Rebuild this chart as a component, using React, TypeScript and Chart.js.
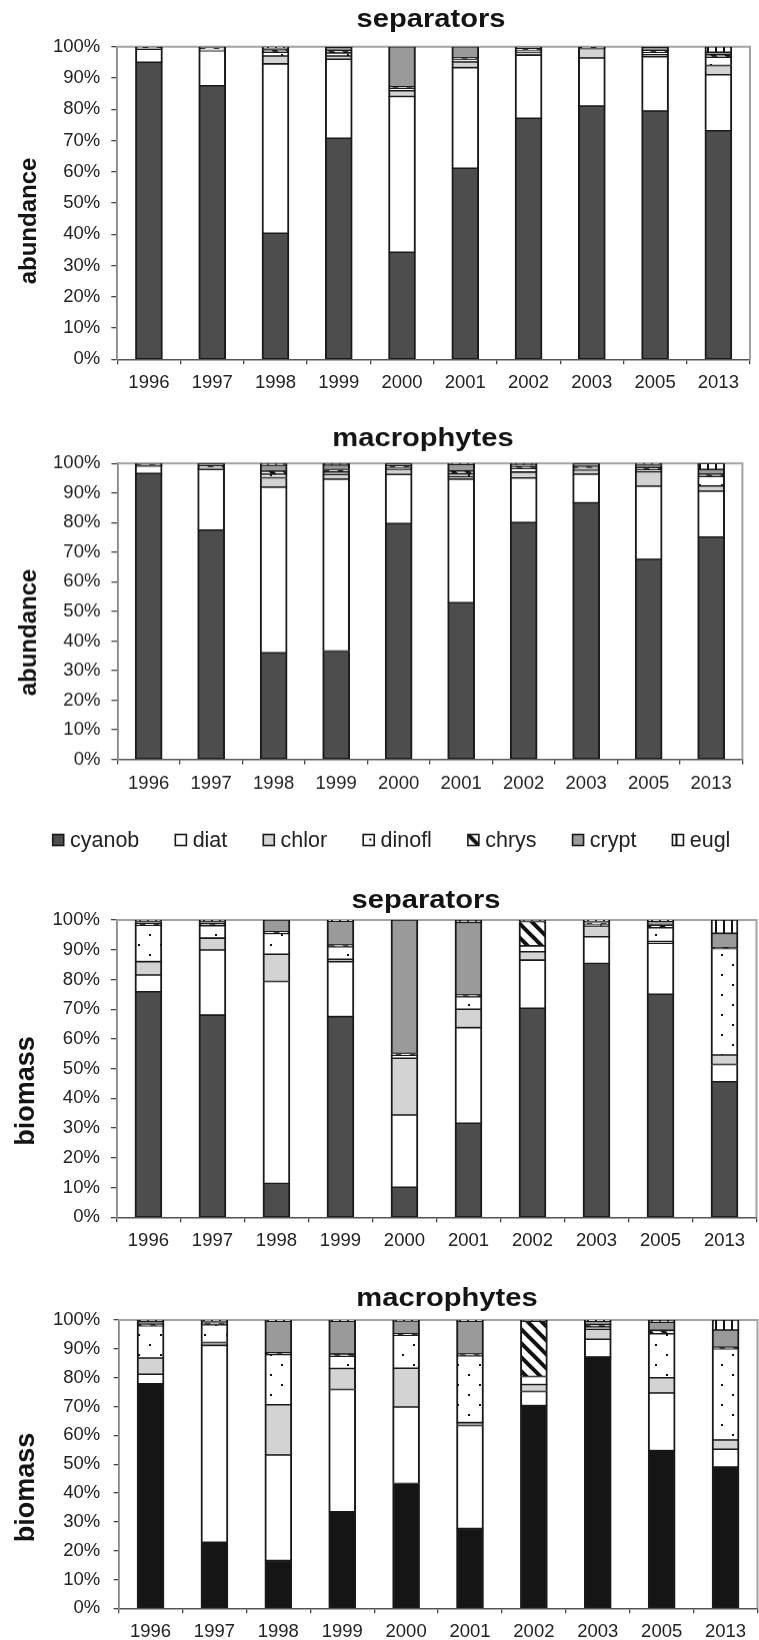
import React, { useEffect, useRef } from "react";
import { Chart, registerables } from "chart.js";

Chart.register(...registerables);

// ---------- categories / labels ----------
const years = ["1996", "1997", "1998", "1999", "2000", "2001", "2002", "2003", "2005", "2013"];
const groups = ["cyanob", "diat", "chlor", "dinofl", "chrys", "crypt", "eugl"];
const yTickStep = 10;

// ---------- separators, abundance (%) ----------
const sepAbCyanob = [95.0, 87.5, 40.3, 70.7, 34.2, 61.1, 77.1, 81.0, 79.4, 73.1];
const sepAbDiat = [4.2, 11.2, 54.2, 25.3, 49.9, 32.2, 20.2, 15.4, 17.4, 17.9];
const sepAbChlor = [0.0, 0.2, 2.5, 1.0, 1.8, 1.8, 1.0, 3.0, 0.6, 3.0];
const sepAbDinofl = [0.3, 0.3, 1.2, 1.0, 0.8, 0.8, 0.6, 0.2, 0.8, 2.6];
const sepAbChrys = [0.3, 0.4, 0.8, 0.8, 0.5, 0.5, 0.5, 0.2, 0.6, 0.8];
const sepAbCrypt = [0.2, 0.4, 0.6, 1.0, 12.8, 3.6, 0.6, 0.2, 1.0, 0.8];
const sepAbEugl = [0.0, 0.0, 0.4, 0.2, 0.0, 0.0, 0.0, 0.0, 0.2, 1.8];

// ---------- macrophytes, abundance (%) ----------
const macAbCyanob = [96.6, 77.5, 36.0, 36.6, 79.7, 52.9, 80.0, 86.7, 67.6, 75.1];
const macAbDiat = [2.6, 20.5, 56.0, 58.1, 16.6, 41.8, 15.1, 9.7, 24.7, 15.5];
const macAbChlor = [0.1, 0.3, 3.2, 1.6, 1.8, 0.8, 2.0, 1.4, 4.9, 1.8];
const macAbDinofl = [0.2, 0.4, 1.2, 0.8, 0.5, 1.0, 1.2, 0.6, 0.8, 3.2];
const macAbChrys = [0.2, 0.5, 1.0, 0.8, 0.6, 1.0, 0.8, 0.6, 0.6, 0.8];
const macAbCrypt = [0.3, 0.8, 2.0, 1.6, 0.8, 2.2, 0.4, 1.0, 1.0, 1.6];
const macAbEugl = [0.0, 0.0, 0.6, 0.5, 0.0, 0.3, 0.5, 0.0, 0.4, 2.0];

// ---------- separators, biomass (%) ----------
const sepBmCyanob = [75.9, 68.0, 11.4, 67.5, 10.1, 31.6, 70.3, 85.4, 75.0, 45.6];
const sepBmDiat = [5.6, 21.9, 67.9, 18.5, 24.3, 32.2, 16.2, 9.0, 17.2, 5.8];
const sepBmChlor = [4.5, 4.0, 9.2, 0.8, 19.1, 6.2, 2.8, 3.6, 0.6, 3.2];
const sepBmDinofl = [12.2, 4.2, 7.0, 4.2, 1.0, 4.2, 2.0, 0.6, 4.6, 35.8];
const sepBmChrys = [0.5, 0.6, 0.5, 0.6, 0.6, 0.6, 8.2, 0.4, 0.8, 0.3];
const sepBmCrypt = [0.8, 1.0, 4.0, 8.0, 44.9, 24.4, 0.3, 0.6, 1.4, 4.8];
const sepBmEugl = [0.5, 0.3, 0.0, 0.4, 0.0, 0.8, 0.2, 0.4, 0.4, 4.5];

// ---------- macrophytes, biomass (%) ----------
const macBmCyanob = [77.9, 22.9, 16.6, 33.5, 43.3, 27.7, 70.3, 87.2, 54.7, 49.0];
const macBmDiat = [3.3, 68.3, 36.6, 42.4, 26.5, 35.7, 4.9, 6.1, 20.0, 6.2];
const macBmChlor = [5.6, 1.0, 17.4, 7.3, 13.5, 1.0, 2.4, 3.5, 5.3, 3.2];
const macBmDinofl = [11.2, 6.2, 17.4, 4.2, 11.4, 23.2, 2.8, 0.8, 15.2, 31.6];
const macBmChrys = [0.5, 0.5, 0.6, 0.8, 0.5, 0.6, 19.2, 0.8, 1.2, 0.5];
const macBmCrypt = [1.0, 0.8, 11.0, 11.4, 4.5, 11.4, 0.2, 1.2, 2.8, 6.0];
const macBmEugl = [0.5, 0.3, 0.4, 0.4, 0.3, 0.4, 0.2, 0.4, 0.8, 3.5];

const FONT = '"Liberation Sans", Arial, Helvetica, sans-serif';

function makePattern(kind: string): any {
  const c = document.createElement("canvas");
  const x = c.getContext("2d") as CanvasRenderingContext2D;
  if (kind === "dots") {
    c.width = 22;
    c.height = 20;
    x.fillStyle = "#ffffff";
    x.fillRect(0, 0, 22, 20);
    x.fillStyle = "#111111";
    x.fillRect(6, 4, 2, 2);
    x.fillRect(17, 14, 2, 2);
  } else if (kind === "hatch") {
    c.width = 14;
    c.height = 14;
    x.fillStyle = "#ffffff";
    x.fillRect(0, 0, 14, 14);
    x.strokeStyle = "#111111";
    x.lineWidth = 4;
    x.beginPath();
    x.moveTo(-2, -2);
    x.lineTo(16, 16);
    x.moveTo(-2, 12);
    x.lineTo(2, 16);
    x.moveTo(12, -2);
    x.lineTo(16, 2);
    x.stroke();
  } else {
    c.width = 8;
    c.height = 4;
    x.fillStyle = "#ffffff";
    x.fillRect(0, 0, 8, 4);
    x.fillStyle = "#111111";
    x.fillRect(3, 0, 2, 4);
  }
  const p = x.createPattern(c, "repeat");
  return p || "#ffffff";
}

const decoPlugin = {
  id: "deco",
  beforeDatasetsDraw(chart: any) {
    const { ctx, chartArea: a } = chart;
    ctx.save();
    ctx.strokeStyle = "#a3a3a3";
    ctx.lineWidth = 2;
    ctx.beginPath();
    ctx.moveTo(a.left, a.top);
    ctx.lineTo(a.right, a.top);
    ctx.lineTo(a.right, a.bottom);
    ctx.stroke();
    ctx.restore();
  },
  afterDraw(chart: any, _args: any, o: any) {
    const { ctx } = chart;
    ctx.save();
    ctx.fillStyle = "#141414";
    ctx.textAlign = "center";
    ctx.textBaseline = "alphabetic";
    ctx.font = `bold ${o.titleSize}px ${FONT}`;
    ctx.save();
    ctx.translate(o.titleX, o.titleBase);
    ctx.scale(o.titleScaleX, 1);
    ctx.fillText(o.title, 0, 0);
    ctx.restore();
    ctx.save();
    ctx.translate(o.yTitleBase, o.yTitleY);
    ctx.rotate(-Math.PI / 2);
    ctx.font = `bold ${o.yTitleSize}px ${FONT}`;
    ctx.fillText(o.yTitle, 0, 0);
    ctx.restore();

    // legend row, built from the chart's own datasets
    if (o.legend) {
      const L = o.legend;
      ctx.font = `${L.fontSize}px ${FONT}`;
      ctx.textAlign = "left";
      ctx.textBaseline = "middle";
      let x = L.x0;
      chart.data.datasets.forEach((ds: any) => {
        const by = L.yCenter - L.box / 2;
        ctx.save();
        ctx.translate(x, by);
        ctx.fillStyle = ds.backgroundColor;
        ctx.fillRect(0, 0, L.box, L.box);
        ctx.strokeStyle = "#1a1a1a";
        ctx.lineWidth = 1.6;
        ctx.strokeRect(0, 0, L.box, L.box);
        ctx.restore();
        ctx.fillStyle = "#222222";
        const tx = x + L.textOffset;
        ctx.fillText(ds.label, tx, L.yCenter + 1);
        x = tx + ctx.measureText(ds.label).width + L.gap;
      });
    }
    ctx.restore();
  },
};

type Cfg = {
  top: number;
  height: number;
  series: number[][];
  cyanColor: string;
  padding: any;
  yWidth: number;
  xHeight: number;
  xPad: number;
  yTickLen: number;
  yPad: number;
  deco: any;
};

function buildConfig(cfg: Cfg): any {
  const fills = [
    cfg.cyanColor,
    "#ffffff",
    "#d3d3d3",
    makePattern("dots"),
    makePattern("hatch"),
    "#9a9a9a",
    makePattern("vlines"),
  ];
  return {
    type: "bar",
    data: {
      labels: years,
      datasets: groups.map((g, i) => ({
        label: g,
        data: cfg.series[i],
        backgroundColor: fills[i],
        borderColor: "#1a1a1a",
        borderWidth: { top: 1.1, bottom: 1.1, left: 2, right: 2 },
        borderSkipped: false,
        barThickness: 27,
      })),
    },
    options: {
      responsive: false,
      animation: false,
      devicePixelRatio: 1,
      layout: { padding: cfg.padding },
      plugins: {
        legend: { display: false },
        tooltip: { enabled: false },
        title: { display: false },
        deco: cfg.deco,
      },
      scales: {
        x: {
          stacked: true,
          grid: {
            offset: true,
            drawOnChartArea: false,
            drawTicks: true,
            tickLength: 5,
            color: "#444444",
            lineWidth: 1.3,
          },
          border: { display: true, color: "#555555", width: 1.5 },
          ticks: {
            color: "#222222",
            font: { family: FONT, size: 18.5 },
            padding: cfg.xPad,
            maxRotation: 0,
            autoSkip: false,
          },
          afterFit: (s: any) => {
            s.height = cfg.xHeight;
          },
        },
        y: {
          stacked: true,
          min: 0,
          max: 100,
          grid: {
            drawOnChartArea: false,
            drawTicks: true,
            tickLength: cfg.yTickLen,
            color: "#444444",
            lineWidth: 1.3,
          },
          border: { display: true, color: "#888888", width: 1.8 },
          ticks: {
            stepSize: yTickStep,
            autoSkip: false,
            color: "#222222",
            font: { family: FONT, size: 18.5 },
            padding: cfg.yPad,
            callback: (v: any) => `${v}%`,
          },
          afterFit: (s: any) => {
            s.width = cfg.yWidth;
          },
        },
      },
    },
    plugins: [decoPlugin],
  };
}

function StackedChart({ cfg }: { cfg: Cfg }) {
  const ref = useRef<HTMLCanvasElement | null>(null);
  useEffect(() => {
    if (!ref.current) return;
    const chart = new Chart(ref.current, buildConfig(cfg));
    return () => chart.destroy();
  }, []);
  return (
    <canvas
      ref={ref}
      width={759}
      height={cfg.height}
      style={{ position: "absolute", left: 0, top: cfg.top, width: 759, height: cfg.height }}
    />
  );
}

const charts: Cfg[] = [
  {
    top: 0,
    height: 400,
    series: [sepAbCyanob, sepAbDiat, sepAbChlor, sepAbDinofl, sepAbChrys, sepAbCrypt, sepAbEugl],
    cyanColor: "#4d4d4d",
    padding: { top: 46.7, left: 20, right: 9, bottom: 0 },
    yWidth: 97.3,
    xHeight: 40.7,
    xPad: 7.9,
    yTickLen: 6,
    yPad: 11,
    deco: {
      title: "separators", titleSize: 26, titleScaleX: 1.12, titleX: 431, titleBase: 27,
      yTitle: "abundance", yTitleSize: 24, yTitleBase: 36.3, yTitleY: 221,
    },
  },
  {
    top: 410,
    height: 449.5,
    series: [macAbCyanob, macAbDiat, macAbChlor, macAbDinofl, macAbChrys, macAbCrypt, macAbEugl],
    cyanColor: "#4d4d4d",
    padding: { top: 53.3, left: 19.9, right: 16.6, bottom: 60 },
    yWidth: 97.5,
    xHeight: 40.5,
    xPad: 7.9,
    yTickLen: 6,
    yPad: 11,
    deco: {
      title: "macrophytes", titleSize: 26, titleScaleX: 1.12, titleX: 423, titleBase: 36,
      yTitle: "abundance", yTitleSize: 24, yTitleBase: 36.3, yTitleY: 222,
      legend: { x0: 52.7, yCenter: 429, box: 11, textOffset: 17.3, gap: 36, fontSize: 21.5 },
    },
  },
  {
    top: 880,
    height: 375,
    series: [sepBmCyanob, sepBmDiat, sepBmChlor, sepBmDinofl, sepBmChrys, sepBmCrypt, sepBmEugl],
    cyanColor: "#4d4d4d",
    padding: { top: 40, left: 20, right: 2.5, bottom: 0 },
    yWidth: 96.4,
    xHeight: 37.7,
    xPad: 7.6,
    yTickLen: 5.5,
    yPad: 11,
    deco: {
      title: "separators", titleSize: 26, titleScaleX: 1.12, titleX: 426, titleBase: 27.8,
      yTitle: "biomass", yTitleSize: 27, yTitleBase: 33.9, yTitleY: 211,
    },
  },
  {
    top: 1270,
    height: 370,
    series: [macBmCyanob, macBmDiat, macBmChlor, macBmDinofl, macBmChrys, macBmCrypt, macBmEugl],
    cyanColor: "#151515",
    padding: { top: 50, left: 20, right: 1.5, bottom: 0 },
    yWidth: 98.6,
    xHeight: 31.7,
    xPad: 7.3,
    yTickLen: 5,
    yPad: 13.3,
    deco: {
      title: "macrophytes", titleSize: 26, titleScaleX: 1.12, titleX: 447, titleBase: 36,
      yTitle: "biomass", yTitleSize: 27, yTitleBase: 33.9, yTitleY: 217.5,
    },
  },
];

export default function App() {
  return (
    <div
      style={{
        position: "absolute",
        left: 0,
        top: 0,
        width: 759,
        height: 1640,
        overflow: "hidden",
        background: "#ffffff",
      }}
    >
      {charts.map((c, i) => (
        <StackedChart key={i} cfg={c} />
      ))}
    </div>
  );
}
